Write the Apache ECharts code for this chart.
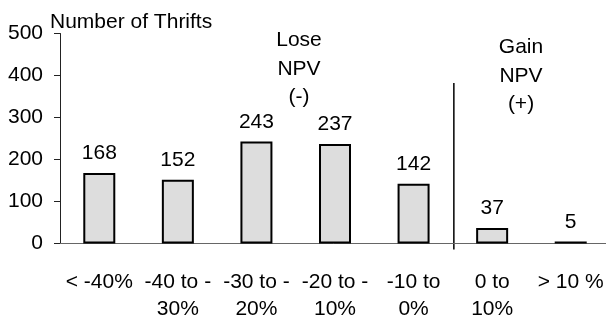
<!DOCTYPE html>
<html>
<head>
<meta charset="utf-8">
<script src="https://cdn.jsdelivr.net/npm/echarts@6/dist/echarts.min.js"></script>
<style>
  html, body { margin: 0; padding: 0; background: #fff; }
  #chart { width: 606px; height: 317px; }
</style>
</head>
<body>
<div id="chart"></div>
<script>
// NPV change buckets
const categories = ['< -40%', '-40 to -\n30%', '-30 to -\n20%', '-20 to -\n10%', '-10 to\n0%', '0 to\n10%', '> 10 %'];
const thrifts = [168, 152, 243, 237, 142, 37, 5];
const yTicks = [0, 100, 200, 300, 400, 500];

const font = '"Liberation Sans", Arial, sans-serif';
const chart = echarts.init(document.getElementById('chart'));

const option = {
  animation: false,
  grid: { left: 60, top: 33.5, width: 550, bottom: 73.5, containLabel: false, outerBoundsMode: 'none' },
  xAxis: {
    type: 'category',
    data: categories,
    axisLine: { lineStyle: { color: '#666', width: 1 } },
    axisTick: { length: 5, lineStyle: { color: '#666' } },
    axisLabel: {
      interval: 0,
      margin: 25,
      color: '#000',
      fontFamily: font,
      fontSize: 21,
      lineHeight: 27
    }
  },
  yAxis: {
    type: 'value',
    min: yTicks[0],
    max: yTicks[yTicks.length - 1],
    interval: 100,
    axisLine: { show: true, lineStyle: { color: '#222', width: 1 } },
    axisTick: { show: true, inside: false, length: 6, lineStyle: { color: '#222' } },
    splitLine: { show: false },
    axisLabel: { margin: 17, color: '#000', fontFamily: font, fontSize: 21 }
  },
  series: [{
    type: 'bar',
    data: thrifts,
    barWidth: 32,
    itemStyle: { color: '#dddddd', borderColor: '#000', borderWidth: 2 },
    label: {
      show: true,
      position: 'top',
      distance: 9,
      color: '#000',
      fontFamily: font,
      fontSize: 21
    }
  }]
};
chart.setOption(option);

// divider between losing and gaining buckets + annotations
const xLeft = chart.convertToPixel({ xAxisIndex: 0 }, categories[4]);
const xRight = chart.convertToPixel({ xAxisIndex: 0 }, categories[5]);
const divX = (xLeft + xRight) / 2 + 1;
const yBase = chart.convertToPixel({ yAxisIndex: 0 }, 0);

const textStyle = { fill: '#000', font: '21px ' + font, textAlign: 'center', lineHeight: 28.5 };

chart.setOption({
  graphic: [
    {
      type: 'line',
      shape: { x1: divX, y1: 83, x2: divX, y2: yBase + 6 },
      style: { stroke: '#000', lineWidth: 1.5 }
    },
    {
      type: 'text', left: 50, top: 12,
      style: { text: 'Number of Thrifts', fill: '#000', font: '21px ' + font }
    },
    {
      type: 'text', x: 299, y: 26,
      style: Object.assign({ text: 'Lose\nNPV\n(-)' }, textStyle)
    },
    {
      type: 'text', x: 521, y: 33,
      style: Object.assign({ text: 'Gain\nNPV\n(+)' }, textStyle)
    }
  ]
});
</script>
</body>
</html>
